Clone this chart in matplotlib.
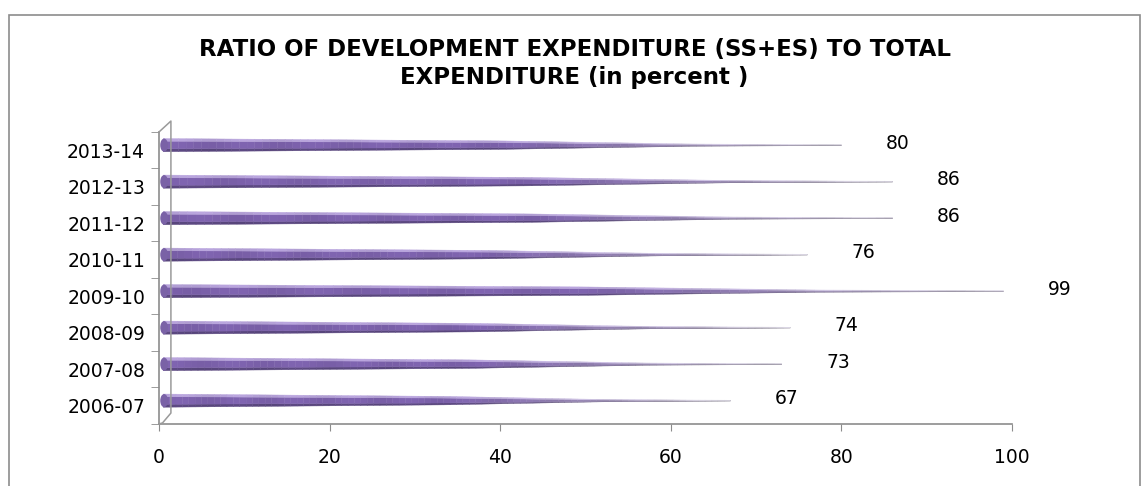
import matplotlib.pyplot as plt
import numpy as np
from matplotlib.collections import PolyCollection
from matplotlib.patches import Ellipse, Rectangle
from matplotlib.colors import to_rgb

years = ["2006-07", "2007-08", "2008-09", "2009-10", "2010-11", "2011-12", "2012-13", "2013-14"]
ratio = [67, 73, 74, 99, 76, 86, 86, 80]

title = "RATIO OF DEVELOPMENT EXPENDITURE (SS+ES) TO TOTAL\nEXPENDITURE (in percent )"

fig = plt.figure(figsize=(11.47, 4.86), dpi=100)
ax = fig.add_axes([0.1386, 0.1276, 0.7437, 0.6008])

# outer chart frame (bottom edge falls outside the picture)
fig.patches.append(Rectangle((9 / 1147, -0.05), 1131 / 1147, 1.05 - 15 / 486,
                             transform=fig.transFigure, fill=False,
                             edgecolor="#8c8c8c", linewidth=1.2))


def blend(c1, c2, t):
    a, b = np.array(to_rgb(c1)), np.array(to_rgb(c2))
    return tuple(a + (b - a) * t)


h0 = 0.36       # bar thickness at the base, in category units
yoff = 0.14     # 3d offset of the bars above the category centre
# cone profile: thickness fraction along the bar
prof_t = [0.0, 0.5, 0.78, 1.0]
prof_h = [1.0, 0.64, 0.17, 0.06]
layers = [  # (lower frac, upper frac, colour near base, colour near tip)
    (0.00, 0.22, "#5b4880", "#8f8a98"),
    (0.22, 0.80, "#7d62ad", "#aca6b6"),
    (0.80, 1.00, "#b6a2da", "#e0dce8"),
]

for i, v in enumerate(ratio):
    yc = i + yoff
    xs = np.linspace(0.5, v, 90)
    t = (xs - xs[0]) / (xs[-1] - xs[0])
    h = h0 * np.interp(t, prof_t, prof_h)
    for lo, hi, cb, ct in layers:
        polys, cols = [], []
        for k in range(len(xs) - 1):
            y_lo = yc - h[k] / 2 + lo * h[k]
            y_hi = yc - h[k] / 2 + hi * h[k]
            y_lo2 = yc - h[k + 1] / 2 + lo * h[k + 1]
            y_hi2 = yc - h[k + 1] / 2 + hi * h[k + 1]
            polys.append([(xs[k], y_lo), (xs[k + 1], y_lo2), (xs[k + 1], y_hi2), (xs[k], y_hi)])
            # faint streaks like the original 3d cones
            s = 0.5 + 0.5 * np.sin(k * 0.7 + i)
            c = blend(cb, ct, np.clip((t[k] - 0.5) / 0.45, 0, 1))
            c = tuple(np.clip(np.array(c) * (0.96 + 0.06 * s), 0, 1))
            cols.append(c)
        ax.add_collection(PolyCollection(polys, facecolors=cols, edgecolors=cols,
                                         linewidths=0.3, zorder=3))
    ax.add_patch(Ellipse((0.6, yc), 0.9, h0, facecolor="#7a62a6",
                         edgecolor="none", zorder=4))
    ax.text(v + 6.6, yc + 0.05, str(v), ha="center", va="center",
            fontsize=13.5, color="black")

ax.set_xlim(0, 100)
ax.set_ylim(-0.5, len(years) - 0.5)
ax.set_xticks(np.arange(0, 101, 20))
ax.set_yticks(np.arange(len(years)))
ax.set_yticklabels(years)
ax.set_yticks(np.arange(len(years) + 1) - 0.5, minor=True)
ax.tick_params(axis="y", which="major", length=0, labelsize=13.5, pad=10)
ax.tick_params(axis="y", which="minor", length=6, color="#8c8c8c")
ax.tick_params(axis="x", length=5, color="#8c8c8c", labelsize=13.5, pad=12)

for side in ["top", "right"]:
    ax.spines[side].set_visible(False)
for side in ["left", "bottom"]:
    ax.spines[side].set_color("#8c8c8c")
    ax.spines[side].set_linewidth(1.2)

# back wall edge of the 3d frame
dx, dy = 1.4, 0.3
ax.plot([0, dx, dx, dx * 0.3, 0], [7.5, 7.5 + dy, -0.5 + dy, -0.5 + dy * 0.1, -0.5],
        color="#9a9a9a", linewidth=1.1, zorder=5, clip_on=False)

fig.text(0.501, 0.869, title, ha="center", va="center", fontsize=16.5,
         fontweight="bold", linespacing=1.25)

fig.savefig("out.png", dpi=100)
